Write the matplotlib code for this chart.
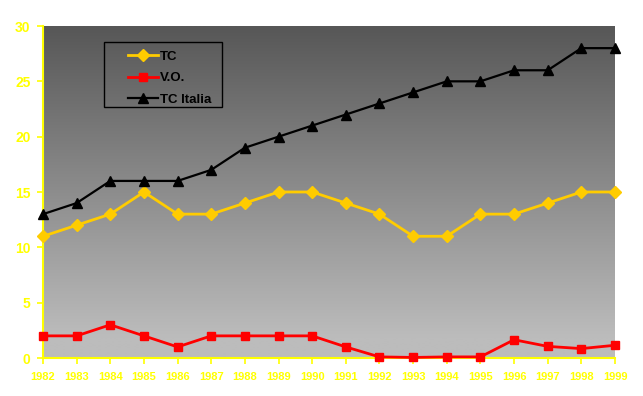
import numpy as np
import matplotlib
matplotlib.use("Agg")
import matplotlib.pyplot as plt
from matplotlib.colors import LinearSegmentedColormap
from matplotlib.patches import Rectangle

years = list(range(1982, 2000))
tc = [11, 12, 13, 15, 13, 13, 14, 15, 15, 14, 13, 11, 11, 13, 13, 14, 15, 15]
vo = [2, 2, 3, 2, 1, 2, 2, 2, 2, 1, 0.1, 0.05, 0.1, 0.1, 1.65, 1.05, 0.85, 1.15]
tc_italia = [13, 14, 16, 16, 16, 17, 19, 20, 21, 22, 23, 24, 25, 25, 26, 26, 28, 28]
yticks = [0, 5, 10, 15, 20, 25, 30]

W, H = 643, 396
fig = plt.figure(figsize=(W/100, H/100), dpi=100, facecolor="white")
ax = fig.add_axes([43/W, 1-358/H, (615-43)/W, (358-26)/H])

grad = np.linspace(0, 1, 256).reshape(-1, 1)
cmap = LinearSegmentedColormap.from_list("g", [(0, "#bcbcbc"), (0.06, "#bcbcbc"), (1, "#575757")])
ax.imshow(grad, extent=[1982, 1999, 0, 30], origin="lower", aspect="auto",
          cmap=cmap, zorder=0, interpolation="bilinear")

ax.plot(years, tc, color="#ffcc00", lw=2, marker="D", ms=6, label="TC", zorder=3, clip_on=False)
ax.plot(years, vo, color="#ff0000", lw=2, marker="s", ms=6, label="V.O.", zorder=3, clip_on=False)
ax.plot(years, tc_italia, color="#000000", lw=1.6, marker="^", ms=6.5, label="TC Italia", zorder=3, clip_on=False)

ax.set_xlim(1982, 1999)
ax.set_ylim(0, 30)
ax.set_xticks(years)
ax.set_xticklabels([str(y) for y in years])
ax.set_yticks(yticks)
for s in ["top", "right"]:
    ax.spines[s].set_visible(False)
for s in ["left", "bottom"]:
    ax.spines[s].set_color("#ffff00")
    ax.spines[s].set_linewidth(1.5)
ax.tick_params(axis="both", colors="#ffff00", direction="out", length=4, width=1.2)
ax.tick_params(axis="y", labelsize=10, pad=5)
ax.tick_params(axis="x", labelsize=8, pad=6)
for lab in ax.get_xticklabels() + ax.get_yticklabels():
    lab.set_fontweight("bold")
    lab.set_family("Liberation Sans")

# legend frame
fig.patches.append(Rectangle((104/W, 1-107/H), (222-104)/W, (107-42)/H,
                             transform=fig.transFigure, fill=False,
                             edgecolor="black", lw=1, zorder=5))
leg = fig.legend(*ax.get_legend_handles_labels(), loc="upper left",
                 bbox_to_anchor=(121/W, 1-44/H), frameon=False,
                 prop={"family": "Liberation Sans", "weight": "bold", "size": 9.5},
                 handlelength=2.3, borderpad=0, labelspacing=0.7, handletextpad=0.15)
for t in leg.get_texts():
    t.set_color("black")

fig.savefig("out.png", dpi=100, facecolor="white")
